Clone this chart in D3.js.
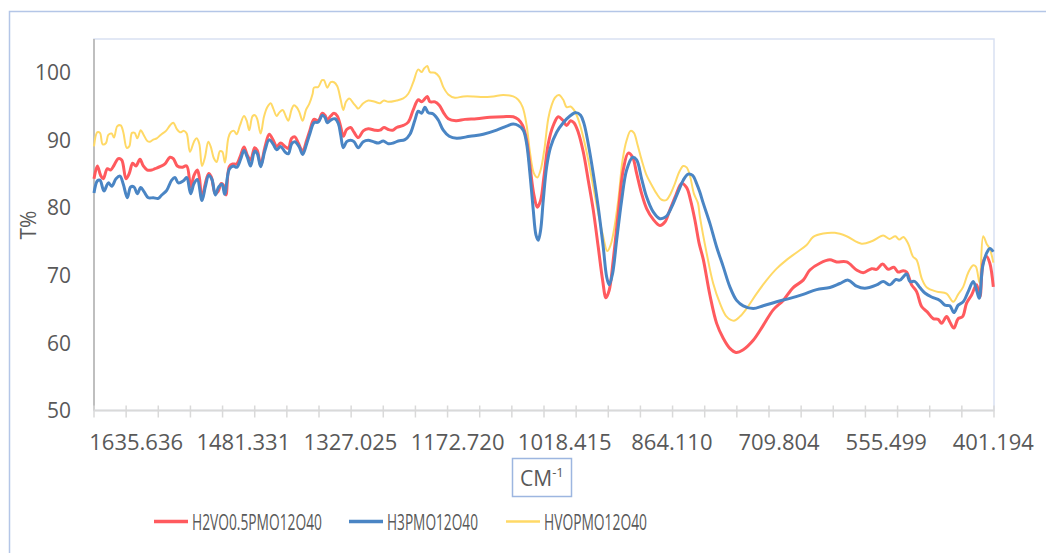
<!DOCTYPE html>
<html>
<head>
<meta charset="utf-8">
<script src="https://cdn.jsdelivr.net/npm/d3@7"></script>
<style>
  body { margin: 0; background: #fff; }
  svg { display: block; font-family: "Open Sans", sans-serif; }
</style>
</head>
<body>
<svg width="1046" height="553"></svg>
<script>
  // 파수(cm-1)와 투과율(T%) 값 - 그림에서 읽은 값
  const seriesNames = ["H2VO0.5PMO12O40", "H3PMO12O40", "HVOPMO12O40"];
  const seriesColors = ["#FF5A5E", "#4A85C4", "#FFD966"];
  const seriesWidths = [3, 3, 2];

  const xLabels = ["1635.636", "1481.331", "1327.025", "1172.720", "1018.415", "864.110", "709.804", "555.499", "401.194"];
  const yTicks = [50, 60, 70, 80, 90, 100];

  const h2vo = [[1696.4,84.3],[1691.6,86.2],[1686.8,84.8],[1683.0,84.3],[1677.2,85.8],[1672.4,85.6],[1667.6,86.3],[1661.4,87.3],[1656.5,87.1],[1650.3,84.3],[1645.6,85.1],[1640.7,86.6],[1635.9,86.2],[1630.2,87.2],[1625.4,86.2],[1619.6,85.6],[1613.3,85.6],[1608.6,85.8],[1601.4,86.1],[1594.2,86.5],[1587.0,87.5],[1582.2,87.3],[1576.4,86.2],[1570.1,86.0],[1562.9,86.2],[1557.2,83.1],[1552.4,84.8],[1547.6,85.6],[1544.8,84.6],[1540.9,81.4],[1536.1,83.6],[1531.2,85.1],[1527.5,84.6],[1521.7,82.1],[1517.8,82.4],[1513.1,83.6],[1510.2,83.4],[1506.3,81.9],[1501.6,86.1],[1496.7,86.5],[1490.9,86.5],[1486.2,87.5],[1480.4,89.0],[1475.6,87.8],[1470.8,87.1],[1465.0,88.9],[1461.2,88.5],[1456.4,86.3],[1450.2,89.0],[1444.0,90.9],[1438.2,90.0],[1433.3,89.1],[1427.6,89.6],[1421.4,89.1],[1416.6,88.8],[1411.7,90.3],[1407.0,90.5],[1402.2,89.6],[1395.9,88.4],[1390.1,90.0],[1385.4,91.5],[1379.6,93.1],[1373.4,92.9],[1367.6,94.0],[1363.8,93.7],[1360.4,93.0],[1355.5,93.6],[1350.8,94.0],[1346.0,93.6],[1341.1,92.0],[1337.4,90.6],[1332.5,91.6],[1326.8,91.9],[1322.0,91.2],[1315.8,90.4],[1308.6,91.4],[1301.4,91.7],[1291.8,91.5],[1284.6,91.5],[1278.8,91.9],[1272.6,91.6],[1266.3,91.5],[1260.5,91.9],[1251.0,92.2],[1243.8,92.7],[1236.6,94.5],[1229.4,96.0],[1224.5,95.7],[1221.2,96.0],[1216.4,96.5],[1212.6,95.7],[1205.4,95.7],[1199.2,95.2],[1192.4,94.0],[1186.2,93.2],[1175.1,92.9],[1162.2,93.1],[1145.3,93.2],[1126.2,93.4],[1107.0,93.5],[1092.6,93.5],[1085.4,93.1],[1079.1,92.2],[1073.3,90.0],[1068.6,86.3],[1062.8,81.9],[1058.0,80.1],[1053.2,81.1],[1048.4,84.6],[1042.2,89.5],[1035.0,92.2],[1027.8,93.5],[1021.5,93.0],[1015.7,92.2],[1010.0,92.9],[1005.2,92.6],[999.0,91.2],[991.8,88.3],[984.6,84.1],[977.4,79.7],[970.2,74.2],[963.9,69.3],[959.1,66.7],[954.4,67.8],[948.6,72.3],[941.4,79.2],[934.2,85.6],[927.0,88.1],[920.7,87.5],[914.9,85.1],[907.7,82.1],[900.5,79.9],[891.0,78.3],[881.4,77.4],[874.2,77.9],[867.0,79.7],[858.3,81.9],[850.1,83.6],[842.9,83.0],[837.2,81.1],[831.0,78.2],[824.8,74.7],[819.0,72.4],[809.4,67.1],[799.7,62.9],[790.2,60.7],[780.6,59.2],[771.9,58.6],[761.4,59.0],[747.0,60.4],[732.6,62.6],[718.2,64.9],[703.8,66.3],[689.4,68.2],[675.0,69.3],[665.4,70.8],[651.0,71.8],[636.6,72.3],[626.9,72.0],[612.5,72.0],[598.1,70.8],[588.6,70.4],[576.5,71.0],[569.3,70.9],[560.7,71.7],[552.6,70.9],[544.4,71.2],[538.2,70.5],[531.0,70.7],[526.1,70.5],[518.9,68.6],[511.7,67.6],[504.5,65.4],[496.4,64.6],[487.8,63.6],[480.6,63.5],[475.7,62.9],[468.5,63.9],[463.8,63.1],[458.0,62.2],[451.8,63.6],[445.5,63.9],[439.7,65.9],[432.5,67.1],[425.3,68.6],[420.6,66.8],[415.8,72.0],[410.9,72.8],[406.2,71.8],[401.2,68.3]];

  const h3pmo = [[1696.4,82.2],[1691.6,84.0],[1687.8,84.1],[1682.0,82.5],[1675.8,83.7],[1670.9,83.2],[1664.7,84.3],[1659.0,84.7],[1654.2,83.5],[1648.4,81.5],[1643.6,83.1],[1638.8,83.1],[1634.0,82.1],[1629.1,83.0],[1624.4,82.4],[1618.2,81.5],[1611.0,81.5],[1603.8,81.4],[1598.9,81.9],[1591.7,82.6],[1584.5,84.1],[1579.8,84.5],[1575.0,83.7],[1567.8,84.0],[1562.9,84.5],[1557.2,82.1],[1552.4,83.6],[1547.6,84.2],[1540.9,81.1],[1536.1,83.1],[1531.2,84.8],[1526.5,84.2],[1521.7,81.9],[1516.8,83.1],[1512.1,83.5],[1508.2,82.0],[1501.6,85.7],[1495.8,86.2],[1490.9,86.0],[1485.2,87.2],[1480.4,88.5],[1475.6,87.5],[1470.8,86.2],[1465.0,88.4],[1461.2,88.0],[1456.4,86.1],[1450.2,88.5],[1444.0,90.1],[1438.2,89.4],[1433.3,88.6],[1427.6,89.1],[1421.4,88.3],[1416.6,88.0],[1411.7,89.5],[1407.0,89.8],[1400.8,89.0],[1395.9,87.9],[1390.1,89.5],[1385.4,91.0],[1379.6,92.6],[1373.4,92.7],[1367.6,93.7],[1363.8,93.4],[1360.4,92.6],[1355.5,93.0],[1349.4,93.2],[1344.6,92.5],[1341.1,90.8],[1337.4,88.9],[1332.5,89.8],[1326.8,90.0],[1322.0,89.8],[1315.8,88.9],[1308.6,89.8],[1301.4,90.0],[1294.2,89.8],[1287.0,89.6],[1279.8,89.9],[1272.6,89.5],[1265.4,89.6],[1258.2,89.9],[1248.6,90.1],[1241.4,90.9],[1234.2,93.0],[1229.4,94.3],[1224.5,94.0],[1219.8,94.9],[1215.0,94.1],[1207.8,93.9],[1200.6,93.0],[1193.4,91.5],[1184.8,90.6],[1174.1,90.3],[1155.0,90.6],[1135.8,90.9],[1116.5,91.5],[1102.1,92.1],[1092.6,92.4],[1085.4,92.2],[1078.2,91.5],[1073.3,89.5],[1068.6,85.1],[1063.8,79.7],[1059.9,76.0],[1056.6,75.2],[1053.2,76.7],[1049.4,81.1],[1044.5,86.1],[1038.8,89.0],[1030.1,91.2],[1020.6,92.6],[1011.0,93.6],[1002.3,94.1],[995.6,93.7],[990.8,92.5],[984.6,89.5],[977.4,85.1],[970.2,80.1],[963.0,74.2],[958.1,69.8],[954.4,68.6],[949.5,70.3],[943.7,75.2],[936.5,81.1],[929.3,85.6],[920.7,87.5],[914.9,87.1],[907.7,84.3],[900.5,81.6],[891.0,79.4],[881.4,78.4],[872.7,78.7],[864.5,80.1],[855.0,82.4],[847.8,84.1],[840.6,85.0],[834.3,84.8],[828.5,83.6],[823.8,82.3],[819.0,80.7],[809.4,77.7],[799.7,74.2],[790.2,71.3],[780.6,68.3],[770.9,66.3],[761.4,65.5],[747.0,65.1],[732.6,65.5],[713.3,66.1],[694.2,66.6],[675.0,67.2],[655.7,67.9],[636.6,68.2],[622.2,68.8],[610.2,69.3],[598.1,68.4],[586.2,68.1],[569.3,68.6],[559.8,69.1],[550.2,68.6],[541.5,69.4],[535.8,69.3],[526.1,70.2],[521.4,69.1],[514.2,69.1],[507.0,68.2],[499.8,67.4],[490.1,66.8],[478.2,66.3],[471.0,65.6],[463.8,65.5],[458.0,64.5],[451.8,65.6],[444.6,66.1],[437.4,67.6],[430.2,69.1],[425.3,67.8],[421.5,66.6],[416.6,71.3],[410.9,73.3],[406.2,74.0],[401.2,73.5]];

  const hvopmo = [[1696.4,89.1],[1691.6,91.2],[1687.8,91.1],[1683.9,89.4],[1679.1,89.6],[1675.8,90.8],[1670.9,91.0],[1667.6,90.4],[1662.8,92.1],[1657.9,92.2],[1654.2,91.2],[1649.3,88.9],[1645.6,89.1],[1641.7,91.1],[1637.8,91.1],[1634.0,90.3],[1629.1,91.5],[1625.4,90.9],[1619.6,89.9],[1615.8,89.8],[1611.0,90.1],[1606.1,90.3],[1600.4,90.8],[1592.7,91.4],[1587.0,92.2],[1582.2,92.6],[1577.3,91.7],[1572.6,91.2],[1566.8,91.4],[1562.9,91.0],[1558.2,88.3],[1552.4,89.8],[1548.5,90.3],[1544.8,89.5],[1540.9,86.2],[1536.6,87.5],[1531.8,89.8],[1528.4,89.1],[1523.6,87.3],[1519.7,86.8],[1515.0,88.4],[1511.6,88.3],[1507.8,86.7],[1503.0,90.3],[1499.5,91.2],[1494.8,91.4],[1490.9,90.9],[1486.2,92.2],[1480.4,93.6],[1476.5,92.9],[1472.8,91.5],[1467.9,93.6],[1464.1,93.7],[1461.2,93.1],[1456.4,91.0],[1451.6,93.5],[1446.9,94.9],[1441.9,95.5],[1438.2,94.7],[1433.3,93.6],[1429.6,94.1],[1424.7,94.5],[1419.9,93.5],[1416.6,92.9],[1411.7,94.6],[1408.4,95.2],[1404.5,94.9],[1400.8,94.2],[1395.9,92.9],[1391.1,94.5],[1386.4,95.4],[1381.5,96.9],[1379.6,97.8],[1373.4,97.9],[1368.1,98.9],[1365.2,98.9],[1360.4,97.8],[1355.5,98.6],[1350.8,98.6],[1346.0,98.0],[1341.1,96.0],[1337.4,94.5],[1333.5,95.7],[1328.8,96.2],[1323.0,95.5],[1318.1,94.9],[1315.8,94.7],[1308.6,95.5],[1301.4,95.9],[1291.8,95.7],[1284.6,95.5],[1278.8,95.9],[1272.6,95.7],[1260.5,95.9],[1251.0,96.2],[1243.8,96.9],[1236.6,98.6],[1229.4,100.5],[1224.5,100.1],[1221.2,100.6],[1216.4,101.0],[1212.6,100.1],[1205.4,100.0],[1199.2,99.4],[1193.4,97.9],[1186.2,96.8],[1176.6,96.3],[1164.6,96.5],[1150.2,96.5],[1135.8,96.4],[1121.4,96.5],[1107.0,96.7],[1092.6,96.5],[1085.4,96.0],[1079.1,94.9],[1073.3,92.2],[1068.6,88.3],[1062.8,85.1],[1058.0,84.5],[1053.2,85.6],[1048.0,88.5],[1042.2,93.2],[1037.3,95.2],[1032.6,96.3],[1026.8,96.7],[1020.6,96.0],[1015.7,94.9],[1010.0,95.0],[1005.2,94.5],[999.0,93.1],[991.8,90.5],[984.6,87.1],[977.4,83.1],[970.2,79.2],[963.0,75.7],[957.2,73.6],[952.4,74.5],[947.6,76.7],[941.4,81.1],[935.1,87.1],[929.3,90.0],[923.6,91.4],[918.8,91.1],[914.0,89.5],[907.7,87.1],[900.5,84.8],[893.3,83.4],[886.1,82.1],[878.9,81.2],[871.7,81.2],[866.0,82.1],[859.8,83.6],[853.6,85.3],[847.8,86.2],[842.9,86.0],[838.2,84.8],[832.4,82.1],[826.6,80.7],[823.8,78.7],[814.1,73.3],[804.6,68.8],[795.0,65.9],[785.3,63.9],[774.8,63.3],[766.2,63.9],[756.5,65.1],[742.1,67.3],[727.7,69.3],[713.3,71.0],[698.9,72.3],[684.5,73.4],[670.1,74.5],[660.6,75.7],[646.2,76.2],[629.4,76.3],[612.5,75.8],[590.9,74.7],[575.4,75.1],[559.8,75.9],[550.9,75.4],[542.3,75.8],[536.5,75.3],[530.7,75.7],[523.8,74.7],[517.0,72.8],[511.7,72.3],[504.1,69.5],[496.9,68.2],[482.9,67.6],[468.5,67.3],[459.0,66.1],[451.8,67.2],[444.6,68.3],[437.4,70.4],[430.2,71.5],[426.3,71.3],[421.0,68.9],[415.8,75.8],[410.9,74.7],[406.2,73.9],[401.2,71.9]];

  const allSeries = [h2vo, h3pmo, hvopmo];

  // 축 설정: 카테고리 간격 1.92881 cm-1, 눈금은 24개 카테고리마다
  const wnStep = 1.92881;
  const wnMax = 1696.4, wnMin = 400.23;

  const svg = d3.select("svg");
  const plotLeft = 94, plotRight = 994, plotTop = 39, plotBottom = 410.5;

  const x = d3.scaleLinear().domain([wnMax, wnMin]).range([plotLeft, plotRight]);
  const y = d3.scaleLinear().domain([50, 105]).range([plotBottom, plotTop]);

  // 차트 영역 테두리
  svg.append("rect")
    .attr("x", 9.5).attr("y", 11.5).attr("width", 1100).attr("height", 600)
    .attr("fill", "none").attr("stroke", "#B4C6E7").attr("stroke-width", 1.5);

  // 플롯 영역 테두리
  svg.append("rect")
    .attr("x", plotLeft).attr("y", plotTop).attr("width", plotRight - plotLeft).attr("height", plotBottom - plotTop)
    .attr("fill", "none").attr("stroke", "#D9E1F2").attr("stroke-width", 1.5);

  // y축 선
  svg.append("line")
    .attr("x1", plotLeft).attr("x2", plotLeft).attr("y1", plotTop).attr("y2", plotBottom)
    .attr("stroke", "#BFBFBF").attr("stroke-width", 2);

  // x축 선과 눈금
  svg.append("line")
    .attr("x1", plotLeft).attr("x2", plotRight).attr("y1", plotBottom).attr("y2", plotBottom)
    .attr("stroke", "#D9D9D9").attr("stroke-width", 2);

  const tickWn = d3.range(0, 29).map(i => wnMax - i * 24 * wnStep);
  svg.selectAll(".xtick")
    .data(tickWn)
    .enter()
    .append("line")
    .attr("x1", d => x(d)).attr("x2", d => x(d))
    .attr("y1", plotBottom - 5).attr("y2", plotBottom + 7)
    .attr("stroke", "#D9D9D9").attr("stroke-width", 1.5);

  svg.selectAll(".xlabel")
    .data(xLabels)
    .enter()
    .append("text")
    .attr("x", d => x(+d))
    .attr("y", 450)
    .attr("text-anchor", "middle")
    .style("font-size", "22px")
    .style("fill", "#595959")
    .text(d => d);

  svg.selectAll(".ylabel")
    .data(yTicks)
    .enter()
    .append("text")
    .attr("x", 71)
    .attr("y", d => y(d))
    .attr("dy", "0.36em")
    .attr("text-anchor", "end")
    .style("font-size", "21px")
    .style("fill", "#595959")
    .text(d => d);

  // y축 제목
  svg.append("text")
    .attr("transform", "translate(36,225) rotate(-90)")
    .attr("text-anchor", "middle")
    .style("font-size", "21px")
    .style("fill", "#595959")
    .text("T%");

  // x축 제목 (상자 안)
  svg.append("rect")
    .attr("x", 512.5).attr("y", 458.5).attr("width", 59).attr("height", 38)
    .attr("fill", "none").attr("stroke", "#9DB6E0").attr("stroke-width", 1.5);
  const xt = svg.append("text")
    .attr("x", 520).attr("y", 486)
    .style("font-size", "21px")
    .style("fill", "#595959");
  xt.append("tspan").text("CM");
  xt.append("tspan").attr("dy", -9).style("font-size", "13px").text("-1");

  // 선 그리기
  const line = d3.line()
    .x(d => x(d[0]))
    .y(d => y(d[1]))
    .curve(d3.curveCatmullRom.alpha(0.5));

  // 노란색이 맨 아래, 빨강, 파랑 순서
  [2, 0, 1].forEach(i => {
    svg.append("path")
      .datum(allSeries[i])
      .attr("d", line)
      .attr("fill", "none")
      .attr("stroke", seriesColors[i])
      .attr("stroke-width", seriesWidths[i])
      .attr("stroke-linejoin", "round");
  });

  // 범례 - 글자가 좁게 눌려 있으므로 가로로만 줄임
  const legendX = [154, 349, 506];
  const legendTextW = [130, 91, 103];
  seriesNames.forEach((name, i) => {
    svg.append("line")
      .attr("x1", legendX[i]).attr("x2", legendX[i] + 34)
      .attr("y1", 521.5).attr("y2", 521.5)
      .attr("stroke", seriesColors[i])
      .attr("stroke-width", seriesWidths[i] + 0.5);
    const t = svg.append("text")
      .style("font-size", "22.5px")
      .style("fill", "#595959")
      .text(name);
    const sx = legendTextW[i] / t.node().getComputedTextLength();
    t.attr("transform", `translate(${legendX[i] + 38},529.5) scale(${sx},1)`);
  });
</script>
</body>
</html>
